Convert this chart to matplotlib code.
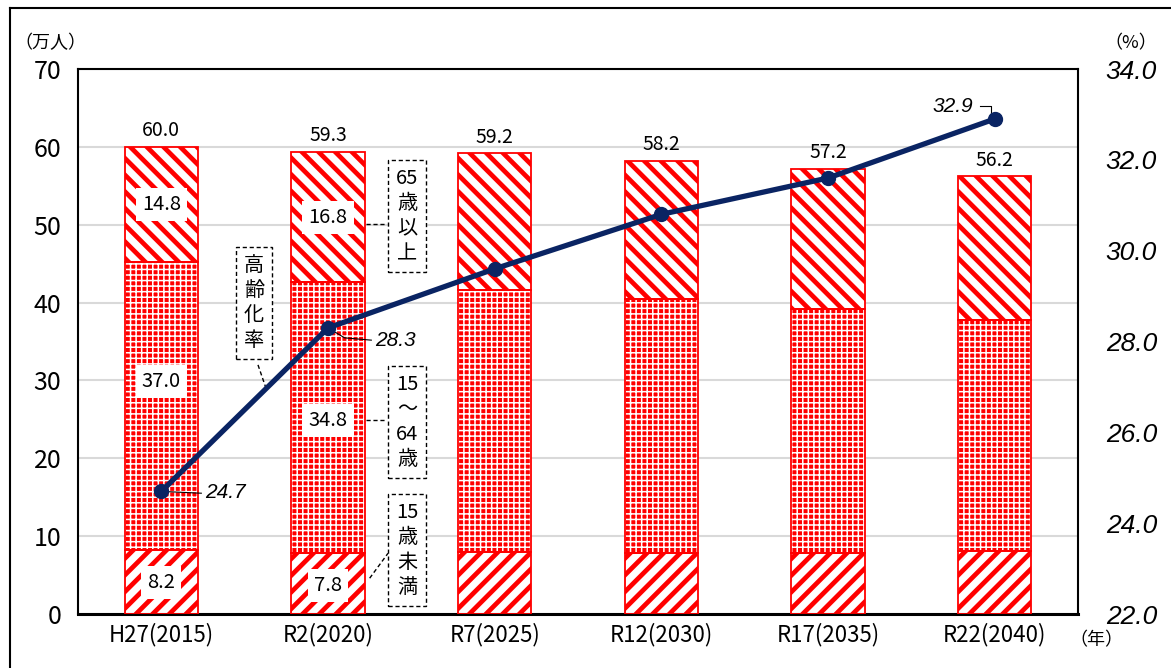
"""Population by age group with ageing-rate line (recreation)."""

import matplotlib
matplotlib.use("Agg")
import matplotlib.pyplot as plt
from matplotlib.lines import Line2D
import numpy as np

plt.rcParams["font.family"] = ["Noto Sans CJK JP", "DejaVu Sans"]

years = ["H27(2015)", "R2(2020)", "R7(2025)", "R12(2030)", "R17(2035)", "R22(2040)"]
under15 = [8.2, 7.8, 8.0, 7.8, 7.9, 8.1]
age15_64 = [37.0, 34.8, 33.6, 32.7, 31.3, 29.7]
over65 = [14.8, 16.8, 17.6, 17.7, 18.0, 18.4]
totals = ["60.0", "59.3", "59.2", "58.2", "57.2", "56.2"]
aging_rate = [24.7, 28.3, 29.6, 30.8, 31.6, 32.9]

RED = "#ff0000"
NAVY = "#0a2463"
BAR_W = 0.44
ITALIC = ["Liberation Sans", "DejaVu Sans"]


def _hatched_bars(ax, x, h, bottom, face, hatch_col, hatch, hlw):
    with plt.rc_context({"hatch.linewidth": hlw}):
        bars = ax.bar(x, h, BAR_W, bottom=bottom, color=face, edgecolor=hatch_col,
                      hatch=hatch, linewidth=0, zorder=2)
    for b in bars:
        if hasattr(b, "set_hatch_linewidth"):
            b.set_hatch_linewidth(hlw)
    ax.bar(x, h, BAR_W, bottom=bottom, fill=False, edgecolor=RED, linewidth=1.3, zorder=3)


fig = plt.figure(figsize=(11.71, 6.68), dpi=100)
ax = fig.add_axes([0.0666, 0.0808, 0.8540, 0.8159])
x = np.arange(len(years))
u = np.array(under15)
m = np.array(age15_64)
o = np.array(over65)

_hatched_bars(ax, x, u, 0, "white", RED, "//", 3.4)
_hatched_bars(ax, x, m, u, RED, "white", "+++", 1.1)
_hatched_bars(ax, x, o, u + m, "white", RED, "\\\\", 3.4)

ax.set_xlim(-0.5, 5.5)
ax.set_ylim(0, 70)
ax.set_yticks(range(0, 71, 10))
ax.yaxis.grid(True, color="#d9d9d9", linewidth=1.5, zorder=0)
ax.set_axisbelow(True)
ax.set_xticks(x)
ax.set_xticklabels(years, fontsize=16)
ax.tick_params(axis="both", length=0)
ax.tick_params(axis="y", labelsize=18, pad=12)
ax.tick_params(axis="x", pad=6)
for s in ax.spines.values():
    s.set_linewidth(1.5)
ax.spines["bottom"].set_linewidth(2.2)

# totals above bars
for xi, top, lab in zip(x, u + m + o, totals):
    ax.annotate(lab, (xi, top), xytext=(0, 4), textcoords="offset points",
                ha="center", va="bottom", fontsize=14)

# segment values for first two bars
box = dict(boxstyle="square,pad=0.3", fc="white", ec="none")
seg_labels = [(0, 52.6, "14.8"), (0, 29.9, "37.0"), (0, 4.0, "8.2"),
              (1, 50.9, "16.8"), (1, 24.9, "34.8"), (1, 3.7, "7.8")]
for xi, yv, lab in seg_labels:
    ax.text(xi, yv, lab, ha="center", va="center", fontsize=14.5, bbox=box, zorder=4)

# dashed legend-like boxes
dbox = dict(boxstyle="square,pad=0.4", fc="white", ec="black", ls=(0, (3, 2)), lw=1)
ax.text(1.474, 51.1, "65\n歳\n以\n上", ha="center", va="center", fontsize=14.5,
        linespacing=1.25, bbox=dbox, zorder=4)
ax.text(1.474, 24.7, "15\n～\n64\n歳", ha="center", va="center", fontsize=14.5,
        linespacing=1.25, bbox=dbox, zorder=4)
ax.text(1.474, 8.2, "15\n歳\n未\n満", ha="center", va="center", fontsize=14.5,
        linespacing=1.25, bbox=dbox, zorder=4)
ax.text(0.556, 39.9, "高\n齢\n化\n率", ha="center", va="center", fontsize=14.5,
        linespacing=1.25, bbox=dbox, zorder=4)
dash = dict(color="black", linestyle=(0, (3, 2)), linewidth=1, zorder=4)
ax.plot([1.23, 1.35], [50.1, 50.1], **dash)
ax.plot([1.23, 1.35], [24.9, 24.9], **dash)
ax.plot([1.25, 1.36], [4.6, 7.8], **dash)
ax.plot([0.58, 0.628], [32.0, 29.0], **dash)

# ageing rate line on right axis
ax2 = ax.twinx()
ax2.set_ylim(22, 34)
ax2.set_yticks(np.arange(22, 34.1, 2))
ax2.set_yticklabels([f"{v:.1f}" for v in np.arange(22, 34.1, 2)],
                    fontsize=19, style="italic", family=ITALIC)
ax2.tick_params(axis="y", length=0, pad=20)
ax2.plot(x, aging_rate, color=NAVY, linewidth=3.8, marker="o", markersize=10, zorder=5)
for s in ax2.spines.values():
    s.set_visible(False)

ax2.plot([0.0, 0.24], [24.7, 24.66], color="black", linewidth=0.8)
ax2.text(0.26, 24.68, "24.7", fontsize=15, style="italic", family=ITALIC,
         ha="left", va="center")
ax2.plot([1.0, 1.1, 1.26], [28.3, 28.08, 28.03], color="black", linewidth=0.8)
ax2.text(1.28, 28.03, "28.3", fontsize=15, style="italic", family=ITALIC,
         ha="left", va="center")
ax2.plot([4.91, 4.98, 4.98], [33.18, 33.18, 32.95], color="black", linewidth=0.8)
ax2.text(4.87, 33.18, "32.9", fontsize=15, style="italic", family=ITALIC,
         ha="right", va="center")

# unit labels
fig.text(0.012, 0.935, "（万人）", fontsize=13, ha="left", va="center")
fig.text(0.988, 0.935, "（%）", fontsize=13, ha="right", va="center")
fig.text(0.913, 0.042, "（年）", fontsize=13, ha="left", va="center")

# outer frame (top and left edges visible)
fig.add_artist(Line2D([0.0085, 1.0], [0.988, 0.988], color="black", linewidth=1.5))
fig.add_artist(Line2D([0.0085, 0.0085], [0.0, 0.988], color="black", linewidth=1.5))

fig.savefig("out.png", dpi=100)
plt.close(fig)
